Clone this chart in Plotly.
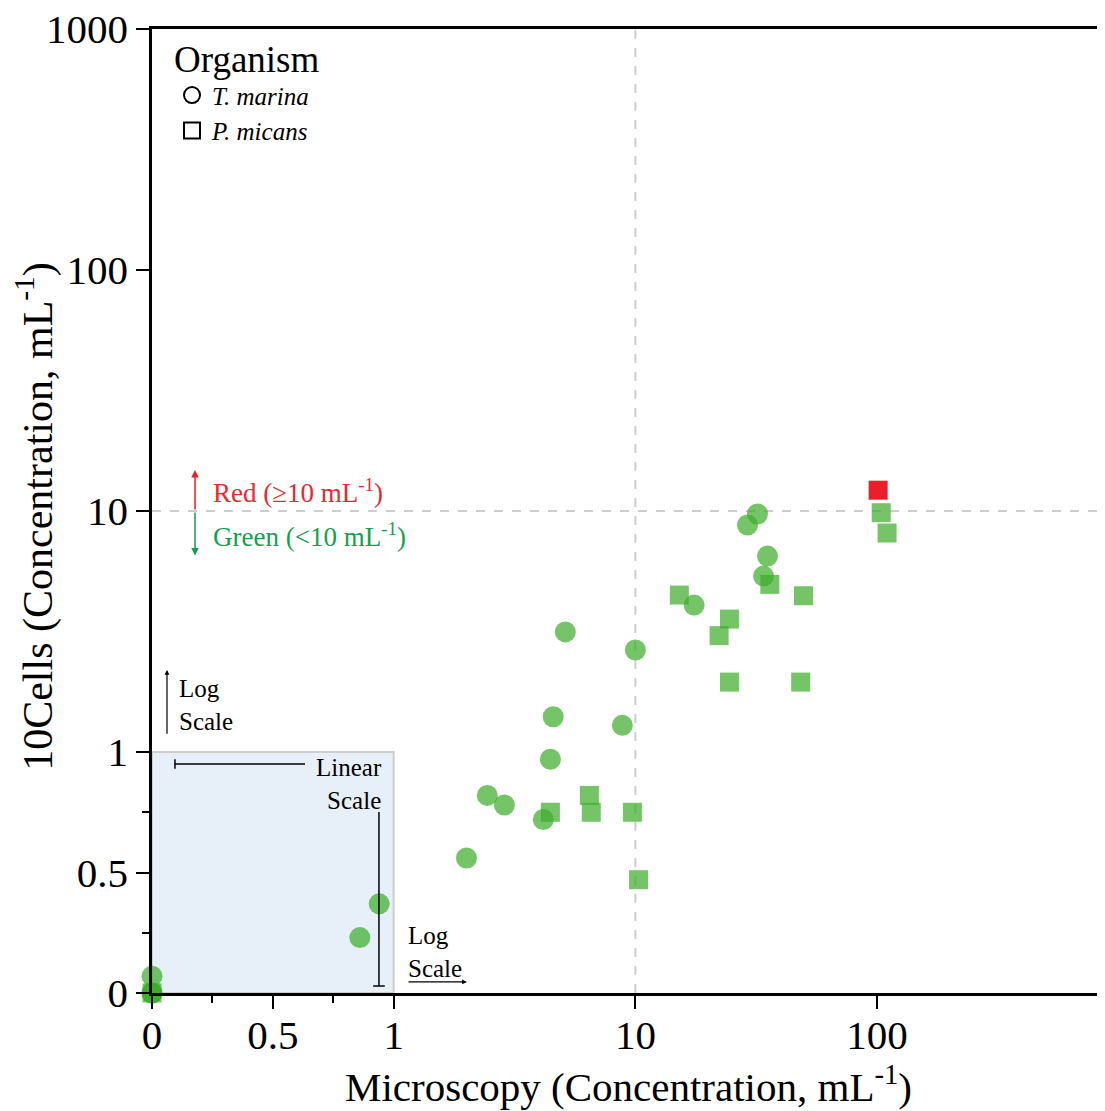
import numpy as np
import plotly.graph_objects as go

# ---------------- data (values in mL^-1) ----------------
tm_micro = [0, 0, 0, 0.86, 0.94, 2.0, 2.44, 2.87, 4.16, 4.45, 4.57, 5.13, 8.83, 10.0, 17.5, 29.1, 32.0, 35.2, 33.9]
tm_cells = [0.07, 0, 0, 0.23, 0.37, 0.56, 0.82, 0.78, 0.72, 0.97, 1.40, 3.15, 1.29, 2.65, 4.07, 8.75, 9.72, 6.5, 5.37]

pm_micro = [0, 4.45, 6.45, 6.57, 9.72, 10.3, 15.2, 22.2, 24.5, 24.5, 36.0, 49.6, 48.3, 101, 104, 110]
pm_cells = [0, 0.75, 0.82, 0.75, 0.75, 0.47, 4.48, 3.04, 3.56, 1.95, 4.96, 4.45, 1.95, 12.2, 9.84, 8.1]

organisms = ["<i>T. marina</i>", "<i>P. micans</i>"]
threshold = 10

x_tickvals_real = [0, 0.5, 1, 10, 100]
x_ticktext = ["0", "0.5", "1", "10", "100"]
y_tickvals_real = [0, 0.5, 1, 10, 100, 1000]
y_ticktext = ["0", "0.5", "1", "10", "100", "1000"]
minor_real = [0.25, 0.75]


def fwd(v):
    """Hybrid scale: linear on [0,1], log10 above 1."""
    v = np.asarray(v, dtype=float)
    return np.round(np.where(v <= 1, v, 1 + np.log10(np.maximum(v, 1e-12))), 9)


GREEN = "rgba(58,172,40,0.70)"
RED = "rgba(232,20,30,0.95)"
FONT = "Liberation Serif, Times New Roman, serif"


def colors(vals):
    return [RED if v >= threshold else GREEN for v in vals]


fig = go.Figure()

# background shapes
fig.add_shape(type="rect", x0=0, x1=1, y0=0, y1=1, xref="x", yref="y",
              fillcolor="rgb(231,239,248)", line=dict(color="rgb(205,205,205)", width=2), layer="below")
fig.add_shape(type="line", x0=float(fwd(threshold)), x1=float(fwd(threshold)), y0=0, y1=4,
              xref="x", yref="y", line=dict(color="rgb(205,205,205)", width=2, dash="dash"), layer="below")
fig.add_shape(type="line", x0=0, x1=4, y0=float(fwd(threshold)), y1=float(fwd(threshold)),
              xref="x", yref="y", line=dict(color="rgb(205,205,205)", width=2, dash="dash"), layer="below")

# data traces
fig.add_trace(go.Scatter(x=fwd(tm_micro), y=fwd(tm_cells), mode="markers", showlegend=False,
                         cliponaxis=False,
                         marker=dict(symbol="circle", size=21, color=colors(tm_cells), line=dict(width=0))))
fig.add_trace(go.Scatter(x=fwd(pm_micro), y=fwd(pm_cells), mode="markers", showlegend=False,
                         cliponaxis=False,
                         marker=dict(symbol="square", size=19, color=colors(pm_cells), line=dict(width=0))))

# legend entries
fig.add_trace(go.Scatter(x=[None], y=[None], mode="markers", name=organisms[0],
                         marker=dict(symbol="circle-open", size=19, color="black", line=dict(width=2, color="black"))))
fig.add_trace(go.Scatter(x=[None], y=[None], mode="markers", name=organisms[1],
                         marker=dict(symbol="square-open", size=18, color="black", line=dict(width=2, color="black"))))

ann_font = dict(family=FONT, size=25, color="black")
annotations = []

# Red / Green threshold arrows
annotations.append(dict(x=0.178, y=2.17, ax=0.178, ay=2.0, xref="x", yref="y", axref="x", ayref="y",
                        text="", showarrow=True, arrowhead=2, arrowsize=1, arrowwidth=1.5, arrowcolor="rgb(232,30,40)"))
annotations.append(dict(x=0.178, y=1.815, ax=0.178, ay=2.0, xref="x", yref="y", axref="x", ayref="y",
                        text="", showarrow=True, arrowhead=2, arrowsize=1, arrowwidth=1.5, arrowcolor="rgb(20,160,80)"))
annotations.append(dict(x=0.245, y=2.083, xref="x", yref="y", xanchor="left", yanchor="middle", showarrow=False,
                        text="Red (≥10 mL<sup>-1</sup>)", font=dict(family=FONT, size=27, color="rgb(232,40,50)")))
annotations.append(dict(x=0.245, y=1.90, xref="x", yref="y", xanchor="left", yanchor="middle", showarrow=False,
                        text="Green (<10 mL<sup>-1</sup>)", font=dict(family=FONT, size=27, color="rgb(20,160,80)")))

# Log scale (vertical) arrow
annotations.append(dict(x=0.062, y=1.34, ax=0.062, ay=1.07, xref="x", yref="y", axref="x", ayref="y",
                        text="", showarrow=True, arrowhead=2, arrowsize=0.8, arrowwidth=1.2, arrowcolor="black"))
annotations.append(dict(x=0.105, y=1.193, xref="x", yref="y", xanchor="left", yanchor="middle", showarrow=False,
                        align="left", text="Log<br>Scale", font=ann_font))

# Linear scale text
annotations.append(dict(x=0.958, y=0.867, xref="x", yref="y", xanchor="right", yanchor="middle", showarrow=False,
                        align="right", text="Linear<br>Scale", font=ann_font))

# Log scale (horizontal) arrow
annotations.append(dict(x=1.303, y=0.046, ax=1.055, ay=0.046, xref="x", yref="y", axref="x", ayref="y",
                        text="", showarrow=True, arrowhead=2, arrowsize=0.8, arrowwidth=1.2, arrowcolor="black"))
annotations.append(dict(x=1.052, y=0.172, xref="x", yref="y", xanchor="left", yanchor="middle", showarrow=False,
                        align="left", text="Log<br>Scale", font=ann_font))

# y axis title
annotations.append(dict(x=-0.1228, y=0.495, xref="paper", yref="paper", xanchor="center", yanchor="middle",
                        showarrow=False, textangle=-90,
                        text="10Cells (Concentration, mL<sup>-1</sup>)", font=dict(family=FONT, size=42, color="black")))

# Linear scale bracket lines
lw = dict(color="black", width=1.5)
fig.add_shape(type="line", x0=0.095, x1=0.633, y0=0.950, y1=0.950, xref="x", yref="y", line=lw)
fig.add_shape(type="line", x0=0.095, x1=0.095, y0=0.930, y1=0.970, xref="x", yref="y", line=lw)
fig.add_shape(type="line", x0=0.939, x1=0.939, y0=0.751, y1=0.029, xref="x", yref="y", line=lw)
fig.add_shape(type="line", x0=0.915, x1=0.963, y0=0.029, y1=0.029, xref="x", yref="y", line=lw)

# page body has an 8px margin, so the figure is sized to fit the 1105x1111 window
fig.update_layout(
    width=1097, height=1103,
    margin=dict(l=144, r=0, t=21, b=118, autoexpand=False),
    plot_bgcolor="white", paper_bgcolor="white",
    font=dict(family=FONT, color="black"),
    annotations=annotations,
    legend=dict(x=0.021, y=1.005, xanchor="left", yanchor="top", bgcolor="rgba(0,0,0,0)",
                title=dict(text="Organism", font=dict(family=FONT, size=37)),
                font=dict(family=FONT, size=25), itemwidth=30, tracegroupgap=0),
    xaxis=dict(range=[0, 3.943], showgrid=False, zeroline=False,
               showline=True, linecolor="black", linewidth=2.5, mirror=True,
               ticks="outside", ticklen=13, tickwidth=2, tickcolor="black",
               tickvals=list(fwd(x_tickvals_real)), ticktext=x_ticktext,
               tickfont=dict(family=FONT, size=41), ticklabelstandoff=-9, ticklabeloverflow="allow",
               minor=dict(tickvals=list(fwd(minor_real)), ticks="outside", ticklen=7, tickwidth=2, tickcolor="black"),
               title=dict(text="Microscopy (Concentration, mL<sup>-1</sup>)",
                          font=dict(family=FONT, size=41), standoff=1),
               automargin=False),
    yaxis=dict(range=[0, 4], showgrid=False, zeroline=False,
               showline=True, linecolor="black", linewidth=2.5, mirror=False,
               ticks="outside", ticklen=13, tickwidth=2, tickcolor="black",
               tickvals=list(fwd(y_tickvals_real)), ticktext=y_ticktext,
               tickfont=dict(family=FONT, size=41), ticklabeloverflow="allow",
               minor=dict(tickvals=list(fwd(minor_real)), ticks="outside", ticklen=7, tickwidth=2, tickcolor="black"),
               automargin=False),
)

fig.write_html("out.html")
